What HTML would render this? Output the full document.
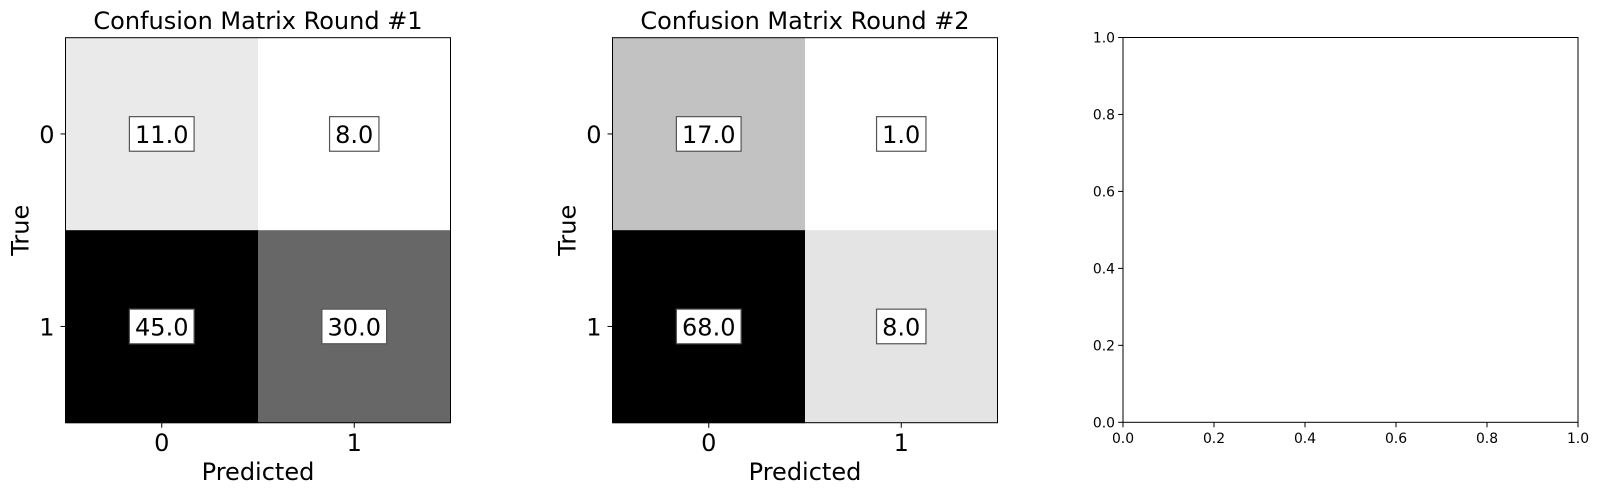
<!DOCTYPE html>
<html><head><meta charset="utf-8"><style>
html,body{margin:0;padding:0;background:#fff;}
svg{display:block;font-family:"DejaVu Sans","Liberation Sans",sans-serif;}
</style></head><body>
<svg id="fig" width="1600" height="495" viewBox="0 0 1600 495" xmlns="http://www.w3.org/2000/svg"></svg>
<script>
const classes = ["0", "1"];
const matrixRound1 = [[11, 8], [45, 30]];
const matrixRound2 = [[17, 1], [68, 8]];
const titles = ["Confusion Matrix Round #1", "Confusion Matrix Round #2"];
const emptyTicks = [0, 0.2, 0.4, 0.6, 0.8, 1.0];
const emptyTickLabels = ["0.0", "0.2", "0.4", "0.6", "0.8", "1.0"];

const NS = "http://www.w3.org/2000/svg";
const svg = document.getElementById("fig");
function mk(tag, attrs, parent, text) {
  const e = document.createElementNS(NS, tag);
  for (const k in attrs) e.setAttribute(k, attrs[k]);
  if (text !== undefined) e.textContent = text;
  (parent || svg).appendChild(e);
  return e;
}
const FS = 24;
function drawMatrix(mat, x0, title, idx) {
  const y0 = 37.7, size = 385, n = classes.length, cell = size / n;
  const g = mk("g", {});
  
  
  const flat = mat.flat();
  const vmin = Math.min(...flat), vmax = Math.max(...flat);
  const xs = c => x0 + cell * (c + 0.5);
  const ys = r => y0 + cell * (r + 0.5);
  for (let r = 0; r < n; r++) for (let c = 0; c < n; c++) {
    const t = (mat[r][c] - vmin) / (vmax - vmin);
    const v = Math.round(255 * (1 - t));
    const rect = mk("rect", {x: x0 + c * cell, y: y0 + r * cell, width: cell + 0.5, height: cell + 0.5, fill: `rgb(${v},${v},${v})`}, g);
    
    
  }
  for (let r = 0; r < n; r++) for (let c = 0; c < n; c++) {
    const label = mat[r][c].toFixed(1);
    const w = label.length * 15.3 + 3.5;
    const box = mk("rect", {x: xs(c) - w / 2, y: ys(r) - 17.3, width: w, height: 34.6, fill: "#fff", stroke: "#555", "stroke-width": 1.2}, g);
    
    
    const tx = mk("text", {x: xs(c), y: ys(r) + 8.8, "text-anchor": "middle", "font-size": FS}, g, label);
    
    
  }
  const frame = mk("rect", {x: x0, y: y0, width: size, height: size, fill: "none", stroke: "#000", "stroke-width": 1}, g);
  
  
  classes.forEach((lab, i) => {
    mk("line", {x1: xs(i), x2: xs(i), y1: y0 + size, y2: y0 + size + 5, stroke: "#000"}, g);
    const xt = mk("text", {x: xs(i), y: 451, "text-anchor": "middle", "font-size": FS}, g, lab);
    
    
    mk("line", {x1: x0 - 5, x2: x0, y1: ys(i), y2: ys(i), stroke: "#000"}, g);
    const yt = mk("text", {x: x0 - 11, y: ys(i) + 8.8, "text-anchor": "end", "font-size": FS}, g, lab);
    
    
  });
  const tt = mk("text", {x: x0 + size / 2, y: 29, "text-anchor": "middle", "font-size": FS}, g, title);
  
  
  const xl = mk("text", {x: x0 + size / 2, y: 480, "text-anchor": "middle", "font-size": FS}, g, "Predicted");
  
  
  const ty = x0 - 37;
  const yl = mk("text", {x: ty, y: y0 + size / 2, "text-anchor": "middle", "font-size": FS, transform: `rotate(-90 ${ty} ${y0 + size / 2})`}, g, "True");
  
  
}
drawMatrix(matrixRound1, 65.5, titles[0], 0);
drawMatrix(matrixRound2, 612.5, titles[1], 1);

(function () {
  const x0 = 1123, x1 = 1578, y0 = 37.5, y1 = 422.3;
  const g = mk("g", {});
  
  
  const sx = v => x0 + v * (x1 - x0);
  const sy = v => y1 - v * (y1 - y0);
  const fr = mk("rect", {x: x0, y: y0, width: x1 - x0, height: y1 - y0, fill: "none", stroke: "#000", "stroke-width": 1}, g);
  
  
  emptyTicks.forEach((v, i) => {
    mk("line", {x1: sx(v), x2: sx(v), y1: y1, y2: y1 + 4.9, stroke: "#000"}, g);
    const xt = mk("text", {x: sx(v), y: y1 + 20.5, "text-anchor": "middle", "font-size": 13.9}, g, emptyTickLabels[i]);
    
    
    mk("line", {x1: x0 - 4.9, x2: x0, y1: sy(v), y2: sy(v), stroke: "#000"}, g);
    const yt = mk("text", {x: x0 - 8, y: sy(v) + 5, "text-anchor": "end", "font-size": 13.9}, g, emptyTickLabels[i]);
    
    
  });
})();
</script>
</body></html>
